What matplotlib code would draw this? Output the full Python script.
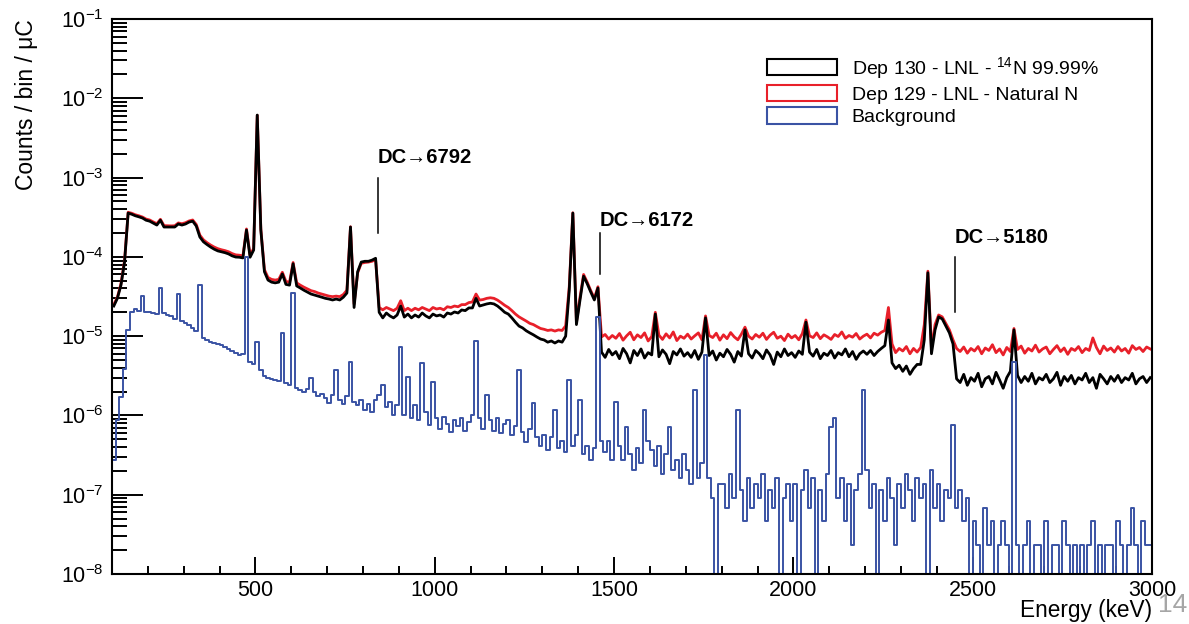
import numpy as np
import matplotlib
matplotlib.use("Agg")
import matplotlib.pyplot as plt
from matplotlib.patches import Patch
from matplotlib.ticker import LogLocator, MultipleLocator, NullFormatter

plt.rcParams['font.family'] = ['Liberation Sans', 'DejaVu Sans']
plt.rcParams['mathtext.fontset'] = 'custom'
plt.rcParams['mathtext.rm'] = 'Liberation Sans'
plt.rcParams['mathtext.it'] = 'Liberation Sans:italic'
plt.rcParams['mathtext.bf'] = 'Liberation Sans:bold'

# 10 keV bins, centres 105 ... 2995 keV (one row below = 100 keV)
bin_centres = np.arange(105, 3000, 10)

# Dep 130 - LNL - 14N 99.99%  (counts / bin / uC, in units of 1e-6)
dep130 = [
    24, 30, 44, 86, 357, 345, 330, 320, 309, 290,
    282, 267, 252, 290, 238, 238, 238, 238, 260, 252,
    260, 275, 282, 245, 178, 155, 143, 133, 125, 119,
    116, 113, 109, 103, 99.5, 99, 97, 218, 99, 122,
    6150, 218, 65, 51, 48, 47, 48, 61, 45, 44,
    82, 43, 40.5, 38, 36, 34, 33, 32, 31, 30,
    29.4, 28.6, 29.4, 28.6, 31, 35, 238, 23, 65, 86,
    88, 88, 91, 96, 20, 17, 19.6, 18, 17, 18.5,
    24, 17.4, 19, 17, 18.5, 17.4, 19.6, 18, 17, 19,
    18, 18.5, 17.4, 19.6, 19, 20.2, 19.6, 21.4, 21, 22.7,
    22.7, 30, 24, 24.7, 25.5, 26, 25.5, 24, 22, 20,
    19, 17, 15, 13.4, 12.7, 11.7, 11, 10.4, 9.75, 9.2,
    8.95, 8.4, 8.7, 8.2, 8.7, 8.4, 10, 38, 357, 14,
    28.6, 57, 46, 36, 28.6, 40.5, 6.3, 5.4, 6.8, 5.8,
    6.4, 5.2, 7.0, 6.0, 4.6, 6.6, 5.7, 6.9, 5.3, 6.2,
    5.8, 19, 5.5, 6.7, 5.9, 4.5, 6.4, 5.8, 6.9, 5.6,
    6.2, 5.4, 6.6, 5.1, 6.3, 17, 5.7, 6.5, 5.0, 6.1,
    5.5, 6.8, 5.9, 4.7, 6.4, 5.6, 12, 6.0, 5.3, 6.6,
    6.0, 5.2, 6.7, 5.8, 4.4, 6.3, 5.5, 6.9, 5.7, 6.2,
    5.4, 6.5, 5.9, 15, 6.3, 5.6, 6.8, 5.2, 6.1, 5.7,
    6.6, 5.3, 6.2, 5.8, 6.9, 5.5, 6.4, 5.1, 6.0, 6.5,
    5.9, 6.6, 5.7, 6.4, 7.0, 7.6, 16, 4.6, 3.9, 4.3,
    3.6, 4.2, 3.3, 3.9, 4.4, 4.4, 9, 63, 6, 12,
    17.5, 16.5, 13.5, 11, 8, 2.9, 2.6, 3.3, 2.4, 3.0,
    2.7, 3.4, 2.3, 2.9, 3.1, 2.5, 3.5, 2.8, 2.2, 3.0,
    3.6, 12, 3.2, 2.6, 3.1, 2.7, 3.4, 2.5, 3.0, 2.8,
    3.3, 2.6, 2.9, 3.5, 2.4, 3.1, 2.7, 3.2, 2.5, 3.0,
    2.8, 3.4, 2.6, 3.0, 2.2, 3.3, 2.9, 2.5, 3.1, 2.7,
    3.2, 2.6, 3.0, 2.8, 3.4, 2.5, 2.9, 3.1, 2.6, 3.0,
]

# Dep 129 - LNL - Natural N  (units of 1e-6)
dep129 = [
    25, 31, 46, 90, 365, 355, 340, 330, 318, 300,
    292, 276, 262, 298, 248, 247, 246, 247, 268, 262,
    270, 284, 292, 256, 188, 164, 151, 141, 133, 127,
    123, 120, 116, 110, 106, 105, 103, 225, 105, 128,
    6100, 225, 69, 55, 52, 51, 52, 64, 49, 48,
    85, 47, 44, 41.5, 39.5, 37.5, 36.5, 35, 34, 33,
    32, 31.5, 32, 31.5, 33.5, 38, 240, 25.5, 63, 83,
    85, 86, 88, 92, 23, 21.5, 23, 22, 21, 22.5,
    28, 21, 22.5, 21, 22.5, 21.5, 23, 22, 21, 23,
    22, 22.5, 21.5, 23.5, 23, 24, 23.5, 25, 25, 26.5,
    27, 34, 28.5, 29, 30, 30.5, 30, 28.5, 26.5, 24.5,
    23, 21, 19, 17.5, 16.5, 15.5, 14.5, 14, 13.2, 12.5,
    12.2, 11.8, 12, 11.6, 12, 11.8, 13.5, 42, 360, 15,
    31, 60, 48, 37.5, 30, 42, 9.8, 10.5, 9.2, 10.2,
    9.4, 10.8, 8.9, 10.1, 11.2, 9.0, 10.4, 9.6, 11.0, 8.7,
    9.9, 20, 10.3, 9.1, 10.7, 9.5, 11.3, 8.8, 10.0, 9.4,
    10.6, 9.2, 10.1, 11.0, 9.0, 18, 10.2, 9.6, 10.9, 8.9,
    10.4, 9.3, 11.1, 9.8, 9.0, 10.6, 13, 10.0, 9.2, 10.5,
    9.7, 10.9, 9.1, 10.3, 11.2, 9.4, 10.0, 8.8, 10.6, 9.5,
    10.2, 9.0, 10.8, 16, 10.1, 9.6, 11.0, 9.3, 10.4, 9.8,
    9.1, 10.5, 9.9, 11.3, 9.4, 10.2, 9.7, 10.8, 9.2, 10.0,
    10.6, 9.5, 10.9, 10.3, 11.2, 11.8, 23, 8.0, 6.2, 7.0,
    6.5, 7.4, 6.0, 7.0, 6.3, 7.2, 14, 66, 7, 14,
    18.5, 17.5, 14.5, 12, 9, 7.0, 6.4, 7.3, 6.1, 7.0,
    6.5, 7.4, 6.0, 7.1, 6.6, 7.8, 6.2, 6.9, 5.8, 7.2,
    6.4, 12.5, 6.8, 7.5, 6.1, 7.0, 6.5, 7.7, 6.3, 6.9,
    7.3, 6.0, 6.8, 7.6, 6.4, 7.1, 5.9, 7.0, 6.6, 7.4,
    6.2, 7.0, 6.6, 9.5, 7.2, 6.0, 7.5, 6.6, 7.1, 6.3,
    7.4, 6.5, 7.0, 6.1, 7.6, 6.8, 7.2, 6.4, 7.3, 6.9,
]

# Background, raw counts per bin (one count = bkg_norm counts/bin/uC)
bkg_norm = 2.3e-8
background = [
    12, 38, 75, 170, 520, 880, 950, 900, 1390, 880,
    880, 852, 830, 1760, 852, 800, 780, 720, 1480, 680,
    640, 602, 555, 505, 1930, 415, 389, 367, 355, 345,
    336, 318, 300, 283, 266, 251, 258, 4330, 205, 194,
    367, 163, 137, 129, 125, 122, 118, 475, 111, 105,
    1522, 97, 91, 87, 94, 129, 87, 77, 82, 72,
    62, 79, 163, 68, 60, 77, 205, 64, 59, 68,
    51, 60, 48, 68, 79, 105, 55, 64, 44, 59,
    318, 44, 133, 40, 59, 38, 199, 48, 33, 115,
    40, 29, 42, 34, 27, 38, 32, 40, 28, 36,
    44, 378, 40, 29, 79, 38, 28, 40, 26, 34,
    38, 25, 32, 163, 27, 20, 29, 62, 23, 18,
    25, 16, 23, 51, 17, 21, 15, 122, 18, 25,
    68, 14, 18, 12, 17, 758, 21, 15, 21, 12,
    64, 18, 12, 31, 14, 9, 17, 11, 51, 21,
    16, 10, 18, 8, 14, 31, 9, 12, 7, 14,
    9, 6, 91, 7, 11, 251, 7, 4, 0, 6,
    6, 3, 8, 4, 51, 5, 2, 7, 3, 6,
    4, 8, 2, 5, 3, 7, 0, 4, 6, 2,
    6, 0, 5, 9, 3, 7, 0, 5, 2, 8,
    31, 40, 4, 7, 2, 6, 1, 5, 8, 91,
    9, 3, 6, 0, 5, 2, 7, 4, 1, 6,
    3, 8, 5, 2, 7, 4, 6, 0, 9, 3,
    6, 2, 5, 4, 33, 3, 5, 2, 4, 0,
    2, 1, 0, 3, 1, 2, 0, 1, 2, 1,
    0, 205, 1, 0, 1, 2, 0, 1, 1, 0,
    2, 0, 1, 1, 0, 2, 1, 0, 1, 0,
    1, 0, 1, 2, 0, 1, 0, 1, 1, 0,
    2, 1, 0, 1, 3, 1, 0, 2, 1, 1,
]

legend_labels = ['Dep 130 - LNL - $^{14}$N 99.99%',
                 'Dep 129 - LNL - Natural N',
                 'Background']

y_decades = [1e-8, 1e-7, 1e-6, 1e-5, 1e-4, 1e-3, 1e-2, 1e-1]

# direct-capture markers
dc_energy = [842, 1460, 2450]
dc_text = ['DC→6792', 'DC→6172', 'DC→5180']
dc_line_lo = [2.0e-4, 6.1e-5, 2.0e-5]
dc_line_hi = [9.9e-4, 2.0e-4, 1.0e-4]
dc_text_y = [1.53e-3, 2.45e-4, 1.5e-4]

c_black = 'black'
c_red = '#e8202a'
c_blue = '#3a53a4'

dep130_vals = np.array(dep130) * 1e-6
dep129_vals = np.array(dep129) * 1e-6
bkg_vals = np.array(background) * bkg_norm

fig = plt.figure(figsize=(11.89, 6.24), dpi=100)
ax = fig.add_axes([0.0942, 0.0801, 0.8747, 0.8894])

ax.plot(bin_centres, dep129_vals, color=c_red, lw=2.0)
ax.plot(bin_centres, dep130_vals, color=c_black, lw=2.0)
ax.plot(bin_centres, bkg_vals, drawstyle='steps-mid', color=c_blue, lw=1.4)

ax.set_yscale('log')
ax.set_xlim(100, 3000)
ax.set_ylim(1e-8, 1e-1)

ax.xaxis.set_major_locator(MultipleLocator(500))
ax.xaxis.set_minor_locator(MultipleLocator(100))
ax.set_yticks(y_decades)
ax.yaxis.set_minor_locator(LogLocator(base=10, subs=np.arange(2, 10), numticks=100))
ax.yaxis.set_minor_formatter(NullFormatter())

ax.tick_params(which='both', direction='in', top=False, right=False, width=1.4)
ax.tick_params(axis='y', which='major', length=22, pad=6, labelsize=15.5)
ax.tick_params(axis='y', which='minor', length=11)
ax.tick_params(axis='x', which='major', length=12, pad=4, labelsize=15.5)
ax.tick_params(axis='x', which='minor', length=6)
for sp in ax.spines.values():
    sp.set_linewidth(1.5)

for e, txt, lo, hi, ty in zip(dc_energy, dc_text, dc_line_lo, dc_line_hi, dc_text_y):
    ax.plot([e, e], [lo, hi], color='black', lw=1.1)
    ax.text(e, ty, txt, fontsize=14.5, fontweight='bold', ha='left', va='baseline')

handles = [Patch(facecolor='white', edgecolor=c, linewidth=1.5) for c in (c_black, c_red, c_blue)]
fig.legend(handles, legend_labels, loc='upper left', bbox_to_anchor=(767 / 1189, 1 - 55 / 624),
           frameon=False, fontsize=14, handlelength=3.6, handleheight=0.9,
           handletextpad=0.75, labelspacing=0.2, borderpad=0, borderaxespad=0)

fig.text(27 / 1189, 1 - 19 / 624, 'Counts / bin / μC', rotation=90, ha='center', va='top', fontsize=16.5)
fig.text(1152 / 1189, 1 - 611 / 624, 'Energy (keV)', ha='right', va='center', fontsize=16.3)
fig.text(1158 / 1189, 1 - 612 / 624, '14', ha='left', va='baseline', fontsize=19, color='#a6a6a6')

fig.savefig('out.png', dpi=100)
